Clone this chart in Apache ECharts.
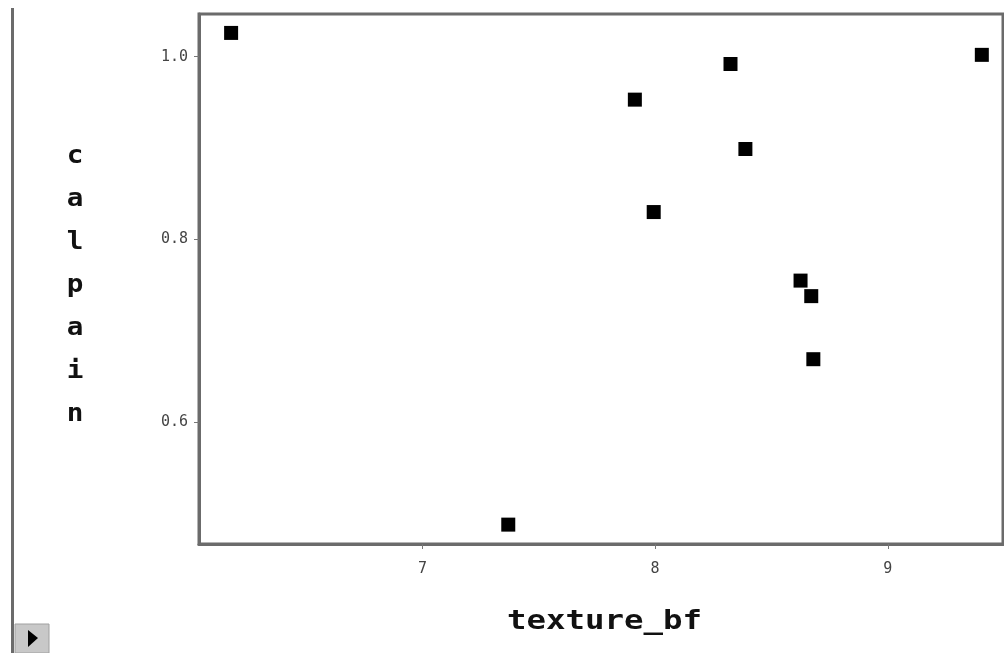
<!DOCTYPE html>
<html>
<head>
<meta charset="utf-8">
<script src="https://cdn.jsdelivr.net/npm/echarts@6/dist/echarts.min.js"></script>
<style>
html,body{margin:0;padding:0;background:#fff;}
#c{width:1004px;height:653px;}
</style>
</head>
<body>
<div id="c"></div>
<script>
var xLabel = 'texture_bf';
var yLabel = 'calpain';
var textureBf = [6.178, 7.913, 8.324, 8.388, 7.994, 8.625, 8.671, 8.680, 7.369, 9.404];
var calpain  = [1.026, 0.953, 0.992, 0.899, 0.830, 0.755, 0.738, 0.669, 0.488, 1.002];
var xTicks = [7, 8, 9];
var yTicks = [0.6, 0.8, 1.0];

var points = textureBf.map(function (x, i) { return [x, calpain[i]]; });

var chart = echarts.init(document.getElementById('c'), null, {renderer: 'canvas'});
var frame = '#6b6b6b';
chart.setOption({
  animation: false,
  backgroundColor: '#ffffff',
  grid: {left: 199, top: 14, right: 1, bottom: 109, show: true, borderColor: frame, borderWidth: 3, backgroundColor: 'transparent'},
  xAxis: {
    type: 'value', min: 6.04, max: 9.495,
    axisLine: {show: true, onZero: false, lineStyle: {color: frame, width: 3}},
    axisTick: {show: true, length: 5, lineStyle: {color: '#777', width: 1}, customValues: xTicks},
    axisLabel: {show: true, customValues: xTicks, margin: 18, color: '#444', fontFamily: 'DejaVu Sans Mono', fontSize: 15, formatter: function (v) { return String(v); }},
    splitLine: {show: false}
  },
  yAxis: {
    type: 'value', min: 0.4668, max: 1.0467,
    axisLine: {show: true, onZero: false, lineStyle: {color: frame, width: 3}},
    axisTick: {show: true, length: 5, lineStyle: {color: '#777', width: 1}, customValues: yTicks},
    axisLabel: {show: true, customValues: yTicks, margin: 11, color: '#444', fontFamily: 'DejaVu Sans Mono', fontSize: 15, formatter: function (v) { return v.toFixed(1); }},
    splitLine: {show: false}
  },
  graphic: [
    {type: 'rect', shape: {x: 11, y: 8, width: 3, height: 645}, style: {fill: '#6b6b6b'}},
    {type: 'rect', shape: {x: 15, y: 624, width: 34, height: 29}, style: {fill: '#c8c8c8', stroke: '#a0a0a0', lineWidth: 1}},
    {type: 'polygon', shape: {points: [[28, 630], [38, 638], [28, 647]]}, style: {fill: '#000'}},
    {type: 'text', x: 507, y: 608, scaleX: 1.2, style: {text: xLabel, font: 'bold 27px "DejaVu Sans Mono"', fill: '#111'}},
    {type: 'text', x: 75, y: 135, scaleX: 1.15, style: {text: yLabel.split('').join('\n'), font: 'bold 24px "DejaVu Sans Mono"', lineHeight: 43, align: 'center', fill: '#111'}}
  ],
  series: [{
    type: 'scatter',
    data: points,
    symbol: 'rect',
    symbolSize: 14,
    itemStyle: {color: '#000', opacity: 1}
  }]
});
</script>
</body>
</html>
